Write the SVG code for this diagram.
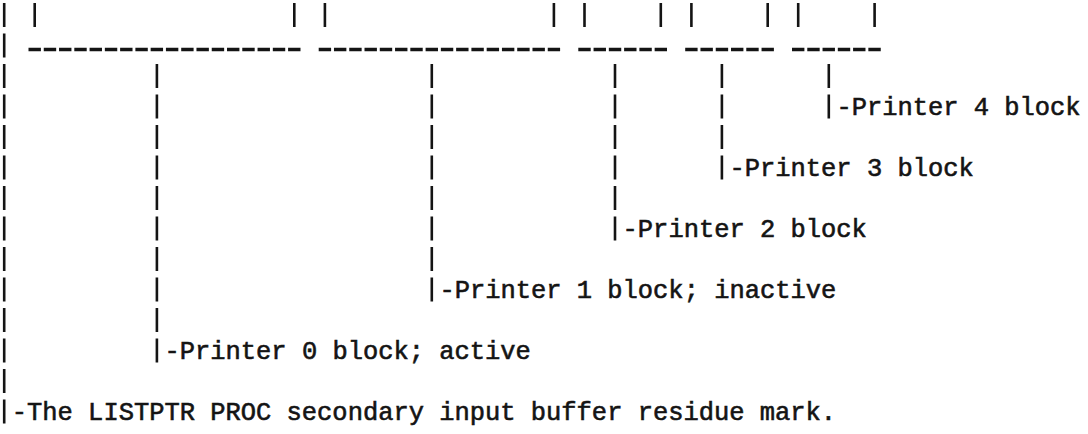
<svg xmlns="http://www.w3.org/2000/svg" width="1088" height="434" viewBox="0 0 1088 434">
  <style>
    .bar { fill: none; stroke: #141414; stroke-width: 2.6; stroke-dasharray: 24 6.5; }
    .tick { fill: none; stroke: #141414; stroke-width: 2.6; }
    .dash { fill: none; stroke: #141414; stroke-width: 3.6; stroke-dasharray: 12.4 2.87; }
    .lbl { font-family: "Liberation Mono", "DejaVu Sans Mono", monospace; font-size: 25.45px; fill: #141414; stroke: #141414; stroke-width: 0.6; white-space: pre; }
  </style>
  <rect width="1088" height="434" fill="#ffffff"/>
  <g id="connectors">
    <!-- top field markers (row 0) -->
    <path class="tick" d="M34.7 3V27 M294.3 3V27 M324.9 3V27 M553.9 3V27 M584.5 3V27 M660.8 3V27 M691.4 3V27 M767.7 3V27 M798.2 3V27 M874.6 3V27"/>
    <!-- field underlines (row 1) -->
    <path class="dash" d="M28.5 49.5H300.5"/>
    <path class="dash" d="M318.7 49.5H560.1"/>
    <path class="dash" d="M578.3 49.5H667"/>
    <path class="dash" d="M685.2 49.5H773.9"/>
    <path class="dash" d="M792 49.5H880.8"/>
    <!-- vertical leaders -->
    <path class="bar" d="M4.2 3V423.5"/>
    <path class="bar" d="M156.9 64V362.5"/>
    <path class="bar" d="M431.8 64V301.5"/>
    <path class="bar" d="M615 64V240.5"/>
    <path class="bar" d="M721.9 64V179.5"/>
    <path class="bar" d="M828.8 64V118.5"/>
  </g>
  <g id="printer4"><text class="lbl" x="836.4" y="115">-Printer 4 block</text></g>
  <g id="printer3"><text class="lbl" x="729.5" y="176">-Printer 3 block</text></g>
  <g id="printer2"><text class="lbl" x="622.6" y="237">-Printer 2 block</text></g>
  <g id="printer1"><text class="lbl" x="439.4" y="298">-Printer 1 block; inactive</text></g>
  <g id="printer0"><text class="lbl" x="164.5" y="359">-Printer 0 block; active</text></g>
  <g id="residue"><text class="lbl" x="11.8" y="420">-The LISTPTR PROC secondary input buffer residue mark.</text></g>
</svg>
